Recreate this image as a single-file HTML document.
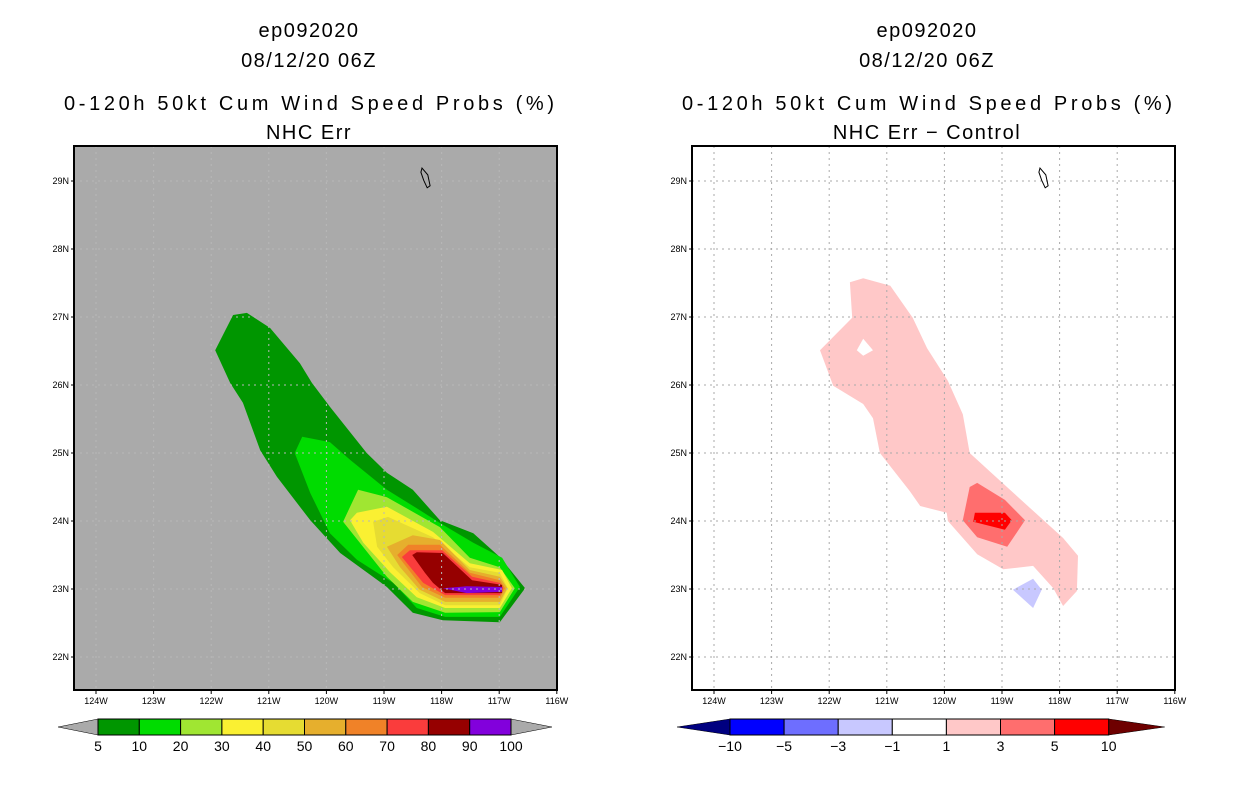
<!DOCTYPE html>
<html><head><meta charset="utf-8"><style>
body{margin:0;background:#fff;width:1236px;height:800px;overflow:hidden}
svg text{font-family:"Liberation Sans",sans-serif}
</style></head><body>
<svg id="chart" width="1236" height="800" xmlns="http://www.w3.org/2000/svg"></svg>
<script>
// ---- data (lon in degrees West, lat in degrees North) ----
const lonTicks = [124,123,122,121,120,119,118,117,116];
const latTicks = [29,28,27,26,25,24,23,22];
const probLevels = ["5","10","20","30","40","50","60","70","80","90","100"];
const probColors = ["#009600","#00dc00","#a0e632","#faf032","#e6dc32","#e6af2d","#f08228","#fa3c3c","#960000","#8200dc"];
const diffLevels = ["-10","-5","-3","-1","1","3","5","10"];
const diffColors = ["#0000ff","#6e6eff","#c8c8ff","#ffffff","#ffc8c8","#ff6e6e","#ff0000"];
const prob5 = [[121.62,27.03],[121.38,27.06],[120.98,26.84],[120.46,26.32],[120.25,26.03],[119.94,25.68],[119.30,25.00],[118.95,24.71],[118.50,24.46],[118.03,24.01],[117.45,23.82],[116.99,23.47],[116.55,23.01],[116.99,22.51],[117.98,22.54],[118.50,22.65],[118.95,23.03],[119.76,23.53],[120.28,24.01],[120.86,24.65],[121.15,25.04],[121.45,25.74],[121.67,26.03],[121.93,26.51]];
const prob10 = [[120.42,25.24],[119.94,25.16],[119.59,24.90],[118.95,24.46],[118.38,24.16],[118.03,23.97],[117.45,23.68],[116.95,23.46],[116.64,23.03],[116.99,22.59],[117.94,22.59],[118.43,22.72],[118.84,23.09],[119.47,23.43],[119.94,23.82],[120.28,24.41],[120.55,25.00]];
const prob20 = [[119.45,24.46],[118.95,24.35],[118.03,23.91],[117.51,23.46],[116.99,23.32],[116.73,23.01],[116.99,22.66],[117.94,22.65],[118.50,22.81],[118.95,23.18],[119.71,23.99]];
const prob30 = [[119.47,24.12],[118.95,24.21],[118.15,23.84],[117.51,23.38],[116.95,23.28],[116.78,23.01],[116.99,22.72],[117.94,22.72],[118.43,22.88],[118.90,23.25],[119.36,23.68],[119.59,24.01]];
const prob40 = [[119.19,23.99],[118.93,24.06],[118.15,23.76],[117.51,23.32],[116.99,23.24],[116.85,23.01],[116.99,22.76],[117.94,22.76],[118.38,22.94],[118.84,23.32],[119.12,23.62]];
const prob50 = [[118.95,23.62],[118.50,23.79],[118.03,23.72],[117.51,23.28],[116.99,23.18],[116.86,23.01],[116.99,22.81],[117.94,22.81],[118.38,22.99],[118.72,23.32]];
const prob60 = [[118.77,23.50],[118.58,23.65],[118.03,23.65],[117.51,23.24],[116.99,23.13],[116.90,23.01],[116.99,22.87],[117.94,22.87],[118.34,23.03]];
const prob70 = [[118.69,23.47],[118.55,23.57],[117.99,23.57],[117.47,23.18],[116.99,23.09],[116.93,23.01],[116.99,22.91],[117.94,22.91],[118.32,23.09]];
const prob80 = [[118.51,23.50],[118.43,23.54],[117.98,23.53],[117.47,23.13],[116.95,23.06],[116.95,22.94],[117.94,22.94],[118.15,23.09],[118.29,23.24]];
const prob90 = [[117.98,23.01],[117.56,23.04],[116.95,23.03],[116.95,22.96],[117.56,22.94]];
const diff1 = [[121.64,27.51],[121.41,27.57],[120.94,27.46],[120.55,26.99],[120.30,26.54],[119.94,26.06],[119.68,25.57],[119.56,25.00],[119.16,24.69],[118.46,24.15],[117.94,23.75],[117.68,23.49],[117.70,22.97],[117.94,22.75],[118.11,23.01],[118.46,23.34],[118.98,23.29],[119.43,23.51],[119.94,24.00],[119.96,24.12],[120.42,24.22],[120.60,24.44],[121.12,25.00],[121.24,25.51],[121.41,25.72],[121.93,25.99],[122.16,26.51],[121.60,26.99]];
const diffHole = [[121.52,26.51],[121.41,26.68],[121.24,26.51],[121.41,26.43]];
const diff3 = [[119.56,24.50],[119.43,24.56],[118.95,24.31],[118.60,24.01],[118.91,23.62],[119.43,23.76],[119.68,24.01]];
const diff5 = [[119.47,24.12],[118.95,24.12],[118.83,24.01],[118.95,23.87],[119.50,23.99]];
const diffNeg = [[118.81,22.99],[118.46,23.15],[118.31,22.99],[118.46,22.72]];
const island = [[118.34,29.19],[118.24,29.09],[118.20,28.93],[118.25,28.90],[118.31,29.01],[118.36,29.13]];

const NS="http://www.w3.org/2000/svg";
const svg=document.getElementById('chart');
function mk(tag,attrs,parent){const e=document.createElementNS(NS,tag);for(const k in attrs)e.setAttribute(k,attrs[k]);(parent||svg).appendChild(e);return e;}
const BOX={w:483,h:544,top:146};
function xs(ox){return w=>ox+22+(124-w)*57.6;}
function ys(){return lat=>181+(29-lat)*68;}
function pts(arr,X,Y){return arr.map(p=>X(p[0]).toFixed(1)+','+Y(p[1]).toFixed(1)).join(' ');}

function panel(ox,cx,bg,gridColor,title2,layers,barColors,barLevels,tipL,tipR,name,x0,bw,tipLen1,tipLen2){
  const g=mk('g',{});
  
  
  const X=xs(ox),Y=ys();
  const lines=[["ep092020",30],["08/12/20 06Z",60]];
  lines.forEach((l,i)=>{const t=mk('text',{x:cx,y:l[1]+7,'text-anchor':'middle','font-size':20,'letter-spacing':'1.5'},g);t.textContent=l[0];
    });
  const t3=mk('text',{x:cx,y:110,'text-anchor':'middle','font-size':20,textLength:490,lengthAdjust:'spacing'},g);t3.textContent="0-120h 50kt Cum Wind Speed Probs (%)";
  
  const t4=mk('text',{x:cx,y:139,'text-anchor':'middle','font-size':20,'letter-spacing':'1.5'},g);t4.textContent=title2;
  
  const bgR=mk('rect',{x:ox,y:BOX.top,width:BOX.w,height:BOX.h,fill:bg},g);
  
  layers.forEach(L=>{const p=mk('polygon',{points:pts(L[0],X,Y),fill:L[1]},g);
    });
  lonTicks.slice(0,8).forEach(w=>{mk('line',{x1:X(w),x2:X(w),y1:BOX.top,y2:BOX.top+BOX.h,stroke:gridColor,'stroke-dasharray':'2,4'},g);});
  latTicks.forEach(l=>{mk('line',{x1:ox,x2:ox+BOX.w,y1:Y(l),y2:Y(l),stroke:gridColor,'stroke-dasharray':'2,4'},g);});
  const isl=mk('polygon',{points:pts(island,X,Y),fill:'none',stroke:'#000','stroke-width':1},g);
  
  const fr=mk('rect',{x:ox,y:BOX.top,width:BOX.w,height:BOX.h,fill:'none',stroke:'#000','stroke-width':2},g);
  
  lonTicks.forEach(w=>{const x=Math.min(X(w),ox+BOX.w);mk('line',{x1:x,x2:x,y1:BOX.top+BOX.h,y2:BOX.top+BOX.h+4,stroke:'#000'},g);
    const t=mk('text',{x:x,y:704,'text-anchor':'middle','font-size':9},g);t.textContent=w+'W';
    });
  latTicks.forEach(l=>{mk('line',{x1:ox-3,x2:ox,y1:Y(l),y2:Y(l),stroke:'#000'},g);
    const t=mk('text',{x:ox-5,y:Y(l)+3,'text-anchor':'end','font-size':9},g);t.textContent=l+'N';
    });
  // colorbar
  const n=barColors.length, y0=719,h=16;
  const bx1=x0+n*bw;
  const tl=mk('polygon',{points:`${x0-tipLen1},${y0+h/2} ${x0},${y0} ${x0},${y0+h}`,fill:tipL,stroke:'#000','stroke-width':0.5},g);
  
  const tr=mk('polygon',{points:`${bx1+tipLen2},${y0+h/2} ${bx1},${y0} ${bx1},${y0+h}`,fill:tipR,stroke:'#000','stroke-width':0.5},g);
  
  barColors.forEach((c,i)=>{const r=mk('rect',{x:x0+i*bw,y:y0,width:bw,height:h,fill:c,stroke:'#000','stroke-width':1},g);
    });
  barLevels.forEach((lv,i)=>{const t=mk('text',{x:x0+i*bw,y:751,'text-anchor':'middle','font-size':14},g);t.textContent=lv.replace('-','\u2212');
    });
}
panel(74,309,'#aaaaaa','#b8b8b8',"NHC Err",
 [[prob5,probColors[0],'5'],[prob10,probColors[1],'10'],[prob20,probColors[2],'20'],[prob30,probColors[3],'30'],[prob40,probColors[4],'40'],[prob50,probColors[5],'50'],[prob60,probColors[6],'60'],[prob70,probColors[7],'70'],[prob80,probColors[8],'80'],[prob90,probColors[9],'90']],
 probColors,probLevels,'#aaaaaa','#aaaaaa','left-panel',98,41.3,40,41);
panel(692,927,'#ffffff','#aaaaaa',"NHC Err \u2212 Control",
 [[diff1,diffColors[4],'1'],[diffHole,'#ffffff','hole'],[diff3,diffColors[5],'3'],[diff5,diffColors[6],'5'],[diffNeg,diffColors[2],'neg1']],
 diffColors,diffLevels,'#000080','#6e0000','right-panel',730,54.1,53,56);
</script>
</body></html>
